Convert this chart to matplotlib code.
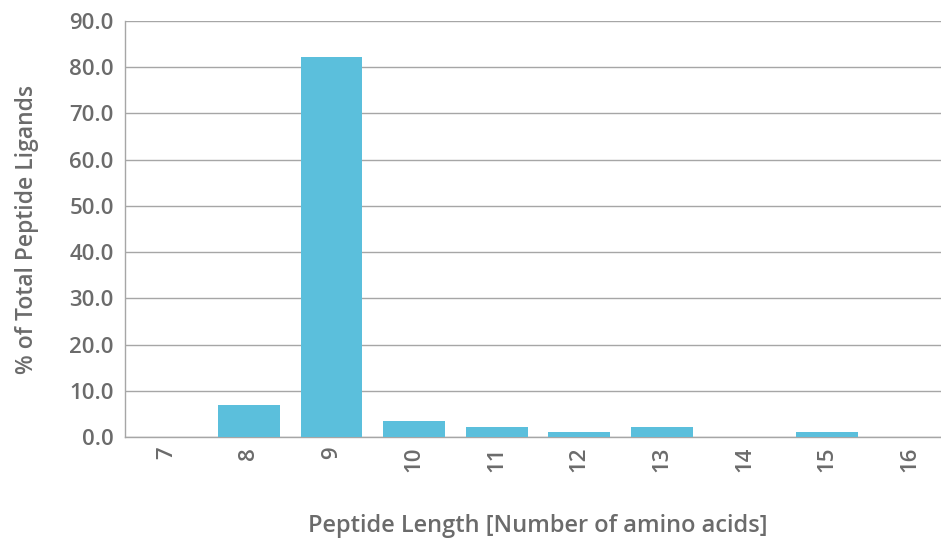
import matplotlib
matplotlib.use("Agg")
import matplotlib.pyplot as plt

# peptide length distribution
lengths = ["7", "8", "9", "10", "11", "12", "13", "14", "15", "16"]
percent = [0.0, 6.9, 82.2, 3.5, 2.2, 1.0, 2.2, 0.0, 1.0, 0.0]

text_col = "#6b6b6b"
bar_col = "#5bbfdc"
grid_col = "#a6a6a6"

plt.rcParams["font.family"] = ["Open Sans", "DejaVu Sans"]
plt.rcParams["font.weight"] = "semibold"
plt.rcParams["axes.labelweight"] = "semibold"

fig = plt.figure(figsize=(9.41, 5.39), dpi=100)
# axes runs a little past the right edge, like the original
ax = fig.add_axes([0.1328, 0.1892, 0.878, 0.772])

x = range(len(lengths))
ax.bar(x, percent, width=0.75, color=bar_col, zorder=3)

ax.set_xlim(-0.5, len(lengths) - 0.5)
ax.set_ylim(0, 90)
ax.set_yticks(range(0, 91, 10))
ax.set_yticklabels([f"{v:.1f}" for v in range(0, 91, 10)])
ax.set_xticks(list(x))
ax.set_xticklabels(lengths, rotation=90)

ax.yaxis.grid(True, color=grid_col, linewidth=1.0, zorder=0)
ax.tick_params(axis="both", length=0, colors=text_col, labelsize=16)
ax.tick_params(axis="y", pad=8)
ax.tick_params(axis="x", pad=7)

for side in ["top", "right"]:
    ax.spines[side].set_visible(False)
for side in ["left", "bottom"]:
    ax.spines[side].set_color(grid_col)
    ax.spines[side].set_linewidth(1.0)

ax.set_ylabel("% of Total Peptide Ligands", color=text_col, fontsize=16.5, labelpad=22)
ax.set_xlabel("Peptide Length [Number of amino acids]", color=text_col, fontsize=17, labelpad=30)

fig.savefig("out.png", dpi=100)
